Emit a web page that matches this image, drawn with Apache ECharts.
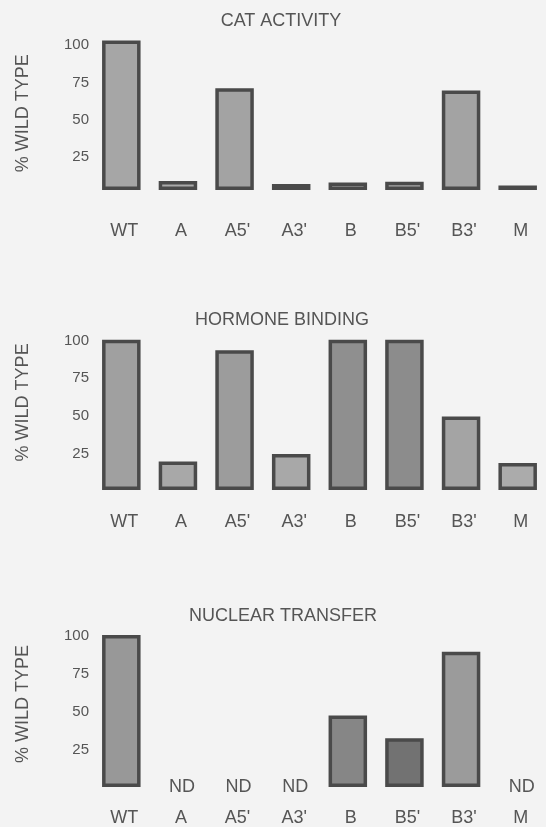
<!DOCTYPE html>
<html>
<head>
<meta charset="utf-8">
<script src="https://cdn.jsdelivr.net/npm/echarts@6/dist/echarts.min.js"></script>
<style>
html,body{margin:0;padding:0;background:#f3f3f3;overflow:hidden;}
#chart{width:546px;height:827px;}
</style>
</head>
<body>
<div id="chart"></div>
<script>
const categories = ['WT', 'A', "A5'", "A3'", 'B', "B5'", "B3'", 'M'];
const panelTitles = ['CAT ACTIVITY', 'HORMONE BINDING', 'NUCLEAR TRANSFER'];
const catActivity = [100, 6, 68, 4, 5, 5.5, 66.5, 3];
const hormoneBinding = [100, 19, 93, 24, 100, 100, 49, 18];
const nuclearTransfer = [100, null, null, null, 47, 32, 89, null]; // null = ND
const ndLabel = 'ND';
const yAxisTitle = '% WILD TYPE';

// styles (kept separate from data)
const shades = [
  ['#a6a6a6', '#aaaaaa', '#a3a3a3', '#ababab', '#aaaaaa', '#aaaaaa', '#a3a3a3', '#b0b0b0'],
  ['#a0a0a0', '#a8a8a8', '#9c9c9c', '#a8a8a8', '#8f8f8f', '#8c8c8c', '#a4a4a4', '#ababab'],
  ['#989898', '#999999', '#999999', '#999999', '#868686', '#727272', '#9b9b9b', '#999999']
];
const FONT = '"Liberation Sans", Arial, sans-serif';
const TXT = '#555555';
const EDGE = '#4a4a4a';

const panels = [catActivity, hormoneBinding, nuclearTransfer];
const gridTops = [40.5, 339.75, 635];
const gridHeights = [149.5, 150.25, 152];
const titleTops = [12, 311, 607];
const titleLefts = [281, 282, 283];
const labelMargins = [32, 23, 22];
const tickPadTop = [9, 2, 2];
const namePads = [[0, 0, 0, 4], [0, 0, 0, 25], [0, 0, 0, 14]];

const chart = echarts.init(document.getElementById('chart'), null, {renderer: 'canvas'});

const option = {
  backgroundColor: '#f3f3f3',
  animation: false,
  textStyle: {fontFamily: FONT},
  title: panelTitles.map((t, i) => ({
    text: t,
    left: titleLefts[i],
    textAlign: 'center',
    top: titleTops[i],
    padding: 0,
    textStyle: {fontFamily: FONT, fontSize: 18, fontWeight: 'normal', color: TXT}
  })),
  grid: panels.map((p, i) => ({left: 93, width: 457, top: gridTops[i], height: gridHeights[i]})),
  xAxis: panels.map((p, i) => ({
    type: 'category',
    gridIndex: i,
    data: categories,
    axisLine: {show: false},
    axisTick: {show: false},
    axisLabel: {margin: labelMargins[i], fontSize: 18, color: TXT, fontFamily: FONT, padding: [0, 0, 0, 6]}
  })),
  yAxis: panels.map((p, i) => ({
    type: 'value',
    gridIndex: i,
    min: 0,
    max: 100,
    interval: 25,
    axisLine: {show: false},
    axisTick: {show: false},
    splitLine: {show: false},
    axisLabel: {
      showMinLabel: false, margin: 4,
      formatter: v => '{t|' + v + '}',
      rich: {t: {fontSize: 15, color: TXT, fontFamily: FONT, padding: [tickPadTop[i], 0, 0, 0]}}
    },
    name: yAxisTitle,
    nameLocation: 'middle',
    nameGap: 61,
    nameTextStyle: {fontSize: 18, color: TXT, fontFamily: FONT, padding: namePads[i]}
  })),
  series: []
};

panels.forEach((vals, i) => {
  option.series.push({
    type: 'bar',
    xAxisIndex: i,
    yAxisIndex: i,
    barWidth: 38.5,
    data: vals.map((v, j) => (v === null ? '-' : {
      value: v,
      itemStyle: {color: shades[i][j]}
    })),
    itemStyle: {borderColor: EDGE, borderWidth: 3.5}
  });
  if (vals.some(v => v === null)) {
    option.series.push({
      type: 'bar',
      xAxisIndex: i,
      yAxisIndex: i,
      barWidth: 38.5,
      barGap: '-100%',
      data: vals.map(v => (v === null ? 0 : '-')),
      itemStyle: {color: 'rgba(0,0,0,0)', borderWidth: 0},
      label: {
        show: true,
        position: 'inside',
        offset: [4, 0],
        formatter: ndLabel,
        fontSize: 18,
        color: TXT,
        fontFamily: FONT
      }
    });
  }
});

chart.setOption(option);
</script>
</body>
</html>
